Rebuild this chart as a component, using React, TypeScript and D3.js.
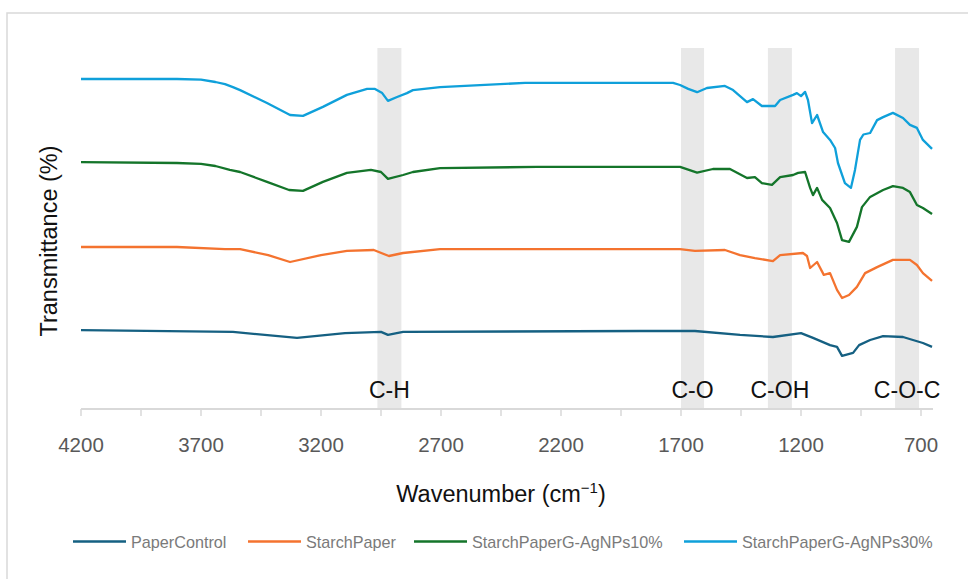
import React from "react";
import * as d3 from "d3";

const W = 968;
const H = 579;

const paperControl: [number, number][] = [
  [4200, 26.3], [3567, 25.7], [3300, 23.7], [3100, 25.3], [2950, 25.7], [2921, 24.7], [2858, 25.7],
  [1871, 26], [1642, 26], [1454, 24.7], [1317, 24], [1200, 25.3], [1150, 23.7], [1079, 21.3],
  [1050, 20.7], [1029, 17.7], [983, 18.7], [958, 21.3], [912, 23], [858, 24.3], [775, 24],
  [692, 22], [654, 20.7],
];

const starchPaper: [number, number][] = [
  [4200, 54], [3800, 54], [3600, 53.3], [3537, 53.3], [3420, 51.3], [3329, 49], [3200, 51.3],
  [3092, 52.7], [2980, 53], [2917, 51], [2858, 52], [2704, 53.3], [2300, 53.3], [1871, 53.3],
  [1704, 53.3], [1642, 52.7], [1517, 53], [1454, 51.3], [1392, 50.3], [1317, 49.3], [1287, 51.3],
  [1192, 52], [1175, 51], [1162, 47], [1133, 49], [1105, 44.7], [1079, 45.3], [1050, 39.7],
  [1029, 37], [1000, 38], [967, 40.7], [933, 45.3], [883, 47.3], [817, 49.7], [746, 49.7],
  [717, 48], [692, 45.3], [654, 42.7],
];

const agNPs10: [number, number][] = [
  [4200, 82.3], [3800, 82], [3700, 81.7], [3640, 81], [3580, 79.7], [3537, 79], [3425, 75.7],
  [3333, 73], [3275, 72.7], [3192, 75.7], [3092, 78.7], [2992, 79.7], [2950, 79], [2921, 76.7],
  [2858, 78], [2817, 79], [2704, 80.3], [2300, 80.7], [1871, 80.7], [1704, 80.7], [1633, 78.8],
  [1567, 80], [1496, 80], [1425, 77], [1392, 77.3], [1363, 75.3], [1321, 74.7], [1287, 77.3],
  [1233, 78], [1212, 78.7], [1183, 79], [1162, 73.7], [1150, 71.3], [1133, 73.7], [1112, 69.7],
  [1079, 67], [1050, 62], [1029, 56.3], [1000, 55.7], [967, 60.7], [946, 67.3], [912, 70.7],
  [858, 73], [817, 74.3], [775, 73.7], [746, 72.3], [717, 68], [692, 67], [654, 65],
];

const agNPs30: [number, number][] = [
  [4200, 110], [4000, 110], [3800, 110], [3700, 109.8], [3640, 109], [3600, 108.3], [3567, 107.3],
  [3537, 106.3], [3425, 102], [3329, 98], [3275, 97.7], [3192, 100.7], [3092, 104.7], [3008, 106.7],
  [2975, 106.7], [2945, 105.3], [2921, 102.7], [2883, 104], [2842, 105.3], [2817, 106.3],
  [2704, 107.3], [2600, 107.7], [2350, 108.7], [1967, 108.7], [1733, 108.7], [1704, 108],
  [1670, 106.7], [1633, 105.6], [1592, 107], [1517, 107.7], [1483, 106.3], [1425, 102.3],
  [1400, 103.3], [1363, 101], [1308, 101], [1287, 103], [1233, 104.7], [1217, 105.3],
  [1200, 104.3], [1183, 105.7], [1171, 103], [1154, 95.3], [1133, 98], [1108, 92.3], [1079, 89.7],
  [1058, 87], [1046, 82], [1017, 75.3], [992, 73.7], [975, 79.7], [954, 89.7], [940, 91.5],
  [912, 92], [883, 96.3], [858, 97.3], [817, 98.7], [775, 97], [746, 94.7], [717, 93.7],
  [692, 89.7], [654, 86.7],
];

const seriesNames = ["PaperControl", "StarchPaper", "StarchPaperG-AgNPs10%", "StarchPaperG-AgNPs30%"];
const seriesData = [paperControl, starchPaper, agNPs10, agNPs30];
const seriesColors = ["#156082", "#F4732F", "#14752A", "#0FA0DA"];

const bandLabels = ["C-H", "C-O", "C-OH", "C-O-C"];
const bandRanges: [number, number][] = [[2965, 2865], [1700, 1604], [1338, 1238], [808, 708]];

const majorTicks = [4200, 3700, 3200, 2700, 2200, 1700, 1200, 700];
const minorTicks = [3950, 3450, 2950, 2450, 1950, 1450, 950];

const sans = "'Liberation Sans', Arial, Helvetica, sans-serif";

export default function App() {
  const x = d3.scaleLinear().domain([4200, 650]).range([81, 933]);
  const y = d3.scaleLinear().domain([0, 120]).range([409, 49]);
  const line = d3
    .line<[number, number]>()
    .x((d) => x(d[0]))
    .y((d) => y(d[1]));

  const legendX = [73, 248, 414, 684];

  return (
    <svg
      width={W}
      height={H}
      style={{ position: "absolute", left: 0, top: 0, background: "#fff" }}
    >
      <rect x={7} y={13} width={980} height={600} fill="#fff" stroke="#d9d9d9" strokeWidth={1.5} />
      {bandRanges.map((b, i) => (
        <rect
          key={"band" + i}
          x={x(b[0])}
          y={48}
          width={x(b[1]) - x(b[0])}
          height={409 - 48}
          fill="#e8e8e8"
        />
      ))}
      <line x1={x(4200)} x2={x(650)} y1={409} y2={409} stroke="#d9d9d9" strokeWidth={2} />
      {[...majorTicks, ...minorTicks].map((t) => (
        <line key={"t" + t} x1={x(t)} x2={x(t)} y1={409} y2={416} stroke="#d9d9d9" strokeWidth={1.5} />
      ))}
      {majorTicks.map((t) => (
        <text
          key={"l" + t}
          x={x(t)}
          y={452}
          textAnchor="middle"
          fontFamily={sans}
          fontSize={20.5}
          fill="#595959"
        >
          {t}
        </text>
      ))}
      {seriesData.map((s, i) => (
        <path
          key={"s" + i}
          d={line(s) || ""}
          fill="none"
          stroke={seriesColors[i]}
          strokeWidth={2.3}
          strokeLinejoin="round"
        />
      ))}
      {bandRanges.map((b, i) => (
        <text
          key={"bl" + i}
          x={(x(b[0]) + x(b[1])) / 2}
          y={398}
          textAnchor="middle"
          fontFamily={sans}
          fontSize={23}
          fill="#111"
        >
          {bandLabels[i]}
        </text>
      ))}
      <text x={501} y={502} textAnchor="middle" fontFamily={sans} fontSize={23.5} fill="#111">
        Wavenumber (cm
        <tspan dy={-9} fontSize={15}>−1</tspan>
        <tspan dy={9}>)</tspan>
      </text>
      <text
        transform="translate(57,241) rotate(-90)"
        textAnchor="middle"
        fontFamily={sans}
        fontSize={23.5}
        fill="#111"
      >
        Transmittance (%)
      </text>
      {seriesNames.map((n, i) => (
        <g key={"lg" + i}>
          <line
            x1={legendX[i]}
            x2={legendX[i] + 53}
            y1={541.5}
            y2={541.5}
            stroke={seriesColors[i]}
            strokeWidth={2.5}
          />
          <text x={legendX[i] + 58} y={547.5} fontFamily={sans} fontSize={16.2} fill="#7a7a7a">
            {n}
          </text>
        </g>
      ))}
    </svg>
  );
}
